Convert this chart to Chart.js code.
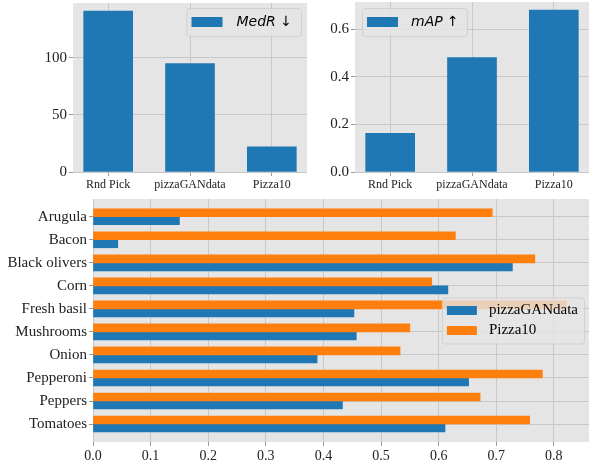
<!DOCTYPE html>
<html>
<head>
<meta charset="utf-8">
<script src="https://cdn.jsdelivr.net/npm/chart.js@4.4.1/dist/chart.umd.min.js"></script>
<style>
    body { margin: 0; background: #fff; width: 589px; height: 463px; position: relative; overflow: hidden; }
    canvas { position: absolute; }
</style>
</head>
<body>
<canvas id="medr" width="310" height="196" style="left:0;top:0"></canvas>
<canvas id="map" width="279" height="196" style="left:310px;top:0"></canvas>
<canvas id="ingr" width="589" height="268" style="left:0;top:195px"></canvas>
<script>
// ============================================================================
// DATA
// ============================================================================
const methods = ['Rnd Pick', 'pizzaGANdata', 'Pizza10'];
const medrValues = [141, 95, 22];
const mapValues = [0.163, 0.481, 0.681];
const medrTicks = [0, 50, 100];
const mapTicks = [0, 0.2, 0.4, 0.6];

const ingredients = ['Arugula', 'Bacon', 'Black olivers', 'Corn', 'Fresh basil',
    'Mushrooms', 'Onion', 'Pepperoni', 'Peppers', 'Tomatoes'];
const ganValues = [0.150, 0.043, 0.728, 0.616, 0.453, 0.457, 0.389, 0.652, 0.433, 0.611];
const pizza10Values = [0.693, 0.629, 0.767, 0.588, 0.822, 0.550, 0.533, 0.780, 0.672, 0.758];
const ingTicks = [0, 0.1, 0.2, 0.3, 0.4, 0.5, 0.6, 0.7, 0.8];

// ============================================================================
// STYLE
// ============================================================================
const BLUE = '#1f77b4';
const ORANGE = '#ff7f0e';
const PANEL = '#e5e5e5';
const GRID = '#c8c8c8';
const SERIF = "'Liberation Serif', 'DejaVu Serif', serif";
const TEXT = '#222';

// grey panel behind the plot area
const panelBg = {
    id: 'panelBg',
    beforeDraw(chart) {
        const { ctx, chartArea: a } = chart;
        ctx.save();
        ctx.fillStyle = PANEL;
        ctx.fillRect(a.left, a.top, a.right - a.left, a.bottom - a.top);
        ctx.restore();
    }
};

// matplotlib-like legend box, drawn over the bars
const boxLegend = {
    id: 'boxLegend',
    afterDatasetsDraw(chart, args, o) {
        const ctx = chart.ctx;
        const a = chart.chartArea;
        ctx.save();
        ctx.font = o.font;
        const textW = Math.max(...o.items.map(it => ctx.measureText(it.text).width));
        const w = o.padL + o.patchW + o.gap + textW + o.padR;
        const h = o.padT * 2 + o.items.length * o.rowH;
        const x = o.align === 'left' ? a.left + o.dx : a.right - o.dx - w;
        const y = o.valign === 'center' ? (a.top + a.bottom) / 2 - h / 2 : a.top + o.dy;

        ctx.beginPath();
        ctx.roundRect(x + 0.5, y + 0.5, w, h, 3);
        ctx.fillStyle = 'rgba(229,229,229,0.8)';
        ctx.fill();
        ctx.strokeStyle = 'rgba(204,204,204,0.8)';
        ctx.lineWidth = 1;
        ctx.stroke();

        o.items.forEach((it, i) => {
            const cy = y + o.padT + o.rowH * (i + 0.5);
            ctx.fillStyle = it.color;
            ctx.fillRect(x + o.padL, cy - o.patchH / 2, o.patchW, o.patchH);
            ctx.fillStyle = '#000';
            ctx.textBaseline = 'middle';
            ctx.fillText(it.text, x + o.padL + o.patchW + o.gap, cy);
        });
        ctx.restore();
    }
};

function gridOpts() {
    return { color: GRID, tickColor: '#999', tickLength: 4, lineWidth: 1, offset: false };
}

// fixed axis size, and no extra room for half labels at the ends
function fixSize(prop, size) {
    return s => {
        s[prop] = size;
        s.paddingTop = 0;
        s.paddingBottom = 0;
        s.paddingLeft = 0;
        s.paddingRight = 0;
    };
}

function methodChart(id, values, ticks, yMax, yFmt, yWidth, pad, legend) {
    return new Chart(document.getElementById(id), {
        type: 'bar',
        data: {
            datasets: [{
                data: methods.map((m, i) => ({ x: i, y: values[i] })),
                backgroundColor: BLUE,
                borderWidth: 0,
                barThickness: 49
            }]
        },
        options: {
            responsive: false,
            animation: false,
            layout: { padding: pad },
            plugins: {
                legend: { display: false },
                tooltip: { enabled: false },
                boxLegend: legend
            },
            scales: {
                x: {
                    type: 'linear',
                    min: -0.43,
                    max: 2.43,
                    offset: false,
                    afterBuildTicks: s => { s.ticks = methods.map((m, i) => ({ value: i })); },
                    afterFit: fixSize('height', 24),
                    ticks: {
                        callback: v => methods[v],
                        autoSkip: false,
                        maxRotation: 0,
                        font: { family: SERIF, size: 12 },
                        color: TEXT,
                        padding: 2
                    },
                    grid: gridOpts(),
                    border: { display: false }
                },
                y: {
                    type: 'linear',
                    min: 0,
                    max: yMax,
                    afterBuildTicks: s => { s.ticks = ticks.map(v => ({ value: v })); },
                    afterFit: fixSize('width', yWidth),
                    ticks: {
                        callback: yFmt,
                        font: { family: SERIF, size: 15 },
                        color: TEXT,
                        padding: 2
                    },
                    grid: gridOpts(),
                    border: { display: false }
                }
            }
        },
        plugins: [panelBg, boxLegend]
    });
}

// ============================================================================
// CHARTS
// ============================================================================
methodChart('medr', medrValues, medrTicks, 148, v => String(v), 73,
    { top: 3, right: 3, left: 0, bottom: 0 },
    {
        items: [{ text: 'MedR \u2193', color: BLUE }],
        font: "italic 14px 'DejaVu Sans'",
        align: 'right', valign: 'top', dx: 6, dy: 5,
        padL: 5, patchW: 31, patchH: 10, gap: 14, padR: 9, padT: 4, rowH: 20
    });

methodChart('map', mapValues, mapTicks, 0.715, v => v.toFixed(1), 45,
    { top: 2, right: 0, left: 0, bottom: 0 },
    {
        items: [{ text: 'mAP \u2191', color: BLUE }],
        font: "italic 14px 'DejaVu Sans'",
        align: 'left', valign: 'top', dx: 7, dy: 6,
        padL: 5, patchW: 31, patchH: 10, gap: 13, padR: 8, padT: 4, rowH: 20
    });

new Chart(document.getElementById('ingr'), {
    type: 'bar',
    data: {
        datasets: [
            {
                label: 'Pizza10',
                data: ingredients.map((n, i) => ({ x: pizza10Values[i], y: i })),
                backgroundColor: ORANGE,
                borderWidth: 0,
                barThickness: 8
            },
            {
                label: 'pizzaGANdata',
                data: ingredients.map((n, i) => ({ x: ganValues[i], y: i })),
                backgroundColor: BLUE,
                borderWidth: 0,
                barThickness: 8
            }
        ]
    },
    options: {
        indexAxis: 'y',
        responsive: false,
        animation: false,
        layout: { padding: { top: 4, right: 0, left: 0, bottom: 0 } },
        plugins: {
            legend: { display: false },
            tooltip: { enabled: false },
            boxLegend: {
                items: [
                    { text: 'pizzaGANdata', color: BLUE },
                    { text: 'Pizza10', color: ORANGE }
                ],
                font: '15px ' + SERIF,
                align: 'right', valign: 'center', dx: 5, dy: 0,
                padL: 5, patchW: 30, patchH: 9, gap: 12, padR: 6, padT: 3, rowH: 20
            }
        },
        scales: {
            x: {
                type: 'linear',
                min: 0,
                max: 0.861,
                afterBuildTicks: s => { s.ticks = ingTicks.map(v => ({ value: v })); },
                afterFit: fixSize('height', 21),
                ticks: {
                    callback: v => v.toFixed(1),
                    font: { family: SERIF, size: 14 },
                    color: TEXT,
                    padding: 2
                },
                grid: gridOpts(),
                border: { display: false }
            },
            y: {
                type: 'linear',
                min: -0.77,
                max: 9.78,
                reverse: true,
                offset: false,
                afterBuildTicks: s => { s.ticks = ingredients.map((n, i) => ({ value: i })); },
                afterFit: fixSize('width', 93),
                ticks: {
                    callback: v => ingredients[v],
                    autoSkip: false,
                    font: { family: SERIF, size: 15 },
                    color: TEXT,
                    padding: 2
                },
                grid: gridOpts(),
                border: { display: false }
            }
        }
    },
    plugins: [panelBg, boxLegend]
});
</script>
</body>
</html>
